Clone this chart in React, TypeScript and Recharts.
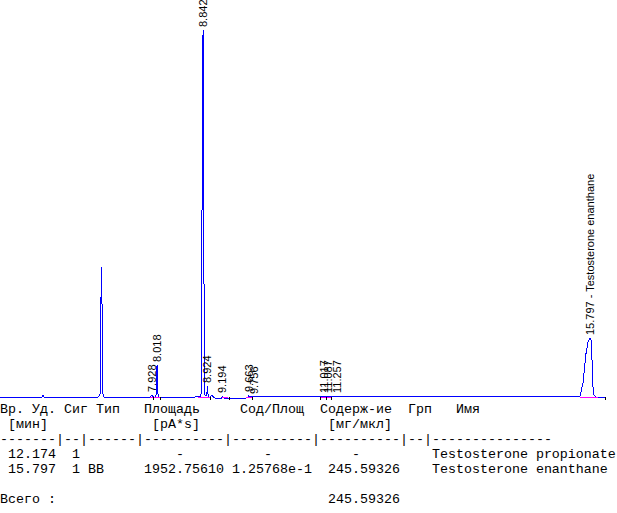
import { ComposedChart, Line, Scatter, XAxis, YAxis } from 'recharts';

// retention time (min) and detector signal (pA)
const traceTimes = [
  5.197, 5.952, 5.97, 5.988,
  6.958, 6.976, 6.994, 7.004, 7.012, 7.018, 7.027, 7.034, 7.04, 7.048, 7.066,
  7.892, 7.928, 7.96, 7.994, 8.005, 8.012, 8.02, 8.028, 8.034, 8.05,
  8.7, 8.736, 8.772, 8.808, 8.815, 8.826, 8.838, 8.846, 8.852, 8.858, 8.866, 8.874,
  8.9, 8.915, 8.924, 8.932, 8.945, 8.97, 9.005, 9.03, 9.06,
  9.18, 9.194, 9.21, 9.6, 9.65, 9.663, 9.7, 9.756, 9.8,
  15.582, 15.618, 15.672, 15.726, 15.762, 15.797, 15.815, 15.833, 15.851, 15.869, 15.905, 16.084,
];
const traceSignal = [
  0, 0, 1.5, 0,
  0, 1, 3, 97, 100, 130, 130, 40, 8, 3, 0,
  0, 1.5, 0, 0, 4, 28, 32, 20, 3, 0,
  0, 1, 0, 1, 37, 180, 340, 367, 367, 200, 30, 2,
  1, 4, 11, 4, 0, 0, 2, 0, -1,
  -1, 0.5, -1, -1.5, 0, 1, 0.5, 1, 0.5,
  0, 1, 14, 44, 55, 59, 57, 37, 10, 2, 0, 0,
];

// integrated baseline segments [start, end] in min
const baselineSegments = [
  [7.892, 8.09],
  [8.755, 8.988],
  [9.186, 9.294],
  [9.617, 9.725],
  [10.964, 11.144],
  [15.618, 15.941],
];

// peak start/end marks
const markTimes = [7.946, 8.072, 8.97, 9.312, 9.725, 10.964, 11.054, 11.144, 16.077];

const peakTimes = [7.928, 8.018, 8.842, 8.924, 9.194, 9.663, 9.756, 11.017, 11.087, 11.257, 15.797];
const peakHeights = [2, 32, 367, 11, 1, 2, 0, 1, 1, 1, 59];
const peakLabels = [
  '7.928', '8.018', '8.842', '8.924', '9.194', '9.663', '9.756',
  '11.017', '11.087', '11.257', '15.797 - Testosterone enanthane',
];

// report table
const headerCols: [number, string][] = [
  [0, 'Вр. Уд.'], [8, 'Сиг'], [12, 'Тип'], [18, 'Площадь'],
  [30, 'Сод/Площ'], [40, 'Содерж-ие'], [51, 'Грп'], [57, 'Имя'],
];
const unitCols: [number, string][] = [[1, '[мин]'], [19, '[pA*s]'], [41, '[мг/мкл]']];
const sepWidths = [7, 2, 6, 10, 10, 10, 2, 15];
const retTimes = ['12.174', '15.797'];
const sigs = ['1', '1'];
const types = ['', 'BB'];
const areas = ['-', '1952.75610'];
const amtPerArea = ['-', '1.25768e-1'];
const amounts = ['-', '245.59326'];
const names = ['Testosterone propionate', 'Testosterone enanthane'];
const totalAmount = '245.59326';

const T0 = 5.197;
const T1 = 16.282;

function place(cols: [number, string][]) {
  let s = '';
  for (const [c, txt] of cols) {
    s = s.padEnd(c, ' ') + txt;
  }
  return s;
}

function tableText() {
  const lines: string[] = [];
  lines.push(place(headerCols));
  lines.push(place(unitCols));
  lines.push(sepWidths.map((w) => '-'.repeat(w)).join('|'));
  retTimes.forEach((rt, i) => {
    const cols: [number, string][] = [[1, rt], [9, sigs[i]]];
    if (types[i]) cols.push([11, types[i]]);
    cols.push(areas[i] === '-' ? [22, '-'] : [18, areas[i]]);
    cols.push(amtPerArea[i] === '-' ? [33, '-'] : [29, amtPerArea[i]]);
    cols.push(amounts[i] === '-' ? [44, '-'] : [41, amounts[i]]);
    cols.push([54, names[i]]);
    lines.push(place(cols));
  });
  lines.push('');
  lines.push(place([[0, 'Всего :'], [41, totalAmount]]));
  return lines.join('\n');
}

const trace = traceTimes.map((t, i) => ({ t, s: traceSignal[i] }));
const baseline = baselineSegments.flatMap(([a, b]) => [
  { t: a, s: 0 },
  { t: b, s: 0 },
  { t: b, s: null },
]);
const marks = markTimes.map((t) => ({ t, s: 0 }));
const labels = peakTimes.map((t, i) => ({ t, s: peakHeights[i], text: peakLabels[i] }));

const PeakLabel = (props: any) => {
  const { cx, cy, payload } = props;
  return (
    <text
      x={cx}
      y={cy}
      dx={3}
      dy="0.36em"
      transform={`rotate(-90, ${cx}, ${cy})`}
      fontFamily="Liberation Sans, Arial, sans-serif"
      fontSize={11}
      fill="#000"
    >
      {payload.text}
    </text>
  );
};

const Mark = (props: any) => {
  const { cx, cy } = props;
  return <line x1={cx} x2={cx} y1={cy} y2={cy + 3} stroke="#000" shapeRendering="crispEdges" />;
};

export default function App() {
  return (
    <div style={{ position: 'absolute', left: 0, top: 0, width: 617, height: 513, background: '#fff' }}>
      <ComposedChart width={617} height={400} margin={{ top: 0, right: 0, bottom: 0, left: 0 }}>
        <XAxis type="number" dataKey="t" domain={[T0, T1]} allowDataOverflow hide />
        <YAxis type="number" domain={[-3, 397]} allowDataOverflow hide />
        <Line
          data={trace}
          dataKey="s"
          type="linear"
          stroke="#0000ff"
          strokeWidth={1}
          dot={false}
          activeDot={false}
          isAnimationActive={false}
          shapeRendering="crispEdges"
        />
        <Line
          data={baseline}
          dataKey="s"
          type="linear"
          stroke="#ff00ff"
          strokeWidth={1}
          dot={false}
          activeDot={false}
          connectNulls={false}
          isAnimationActive={false}
          shapeRendering="crispEdges"
        />
        <Scatter data={marks} dataKey="s" shape={Mark} activeShape={Mark} isAnimationActive={false} />
        <Scatter data={labels} dataKey="s" shape={PeakLabel} activeShape={PeakLabel} isAnimationActive={false} />
      </ComposedChart>
      <pre
        style={{
          position: 'absolute',
          left: 0,
          top: 402,
          margin: 0,
          fontFamily: '"Liberation Mono", "Courier New", monospace',
          fontSize: 13.333,
          lineHeight: '15px',
          color: '#000',
          whiteSpace: 'pre',
        }}
      >
        {tableText()}
      </pre>
    </div>
  );
}
